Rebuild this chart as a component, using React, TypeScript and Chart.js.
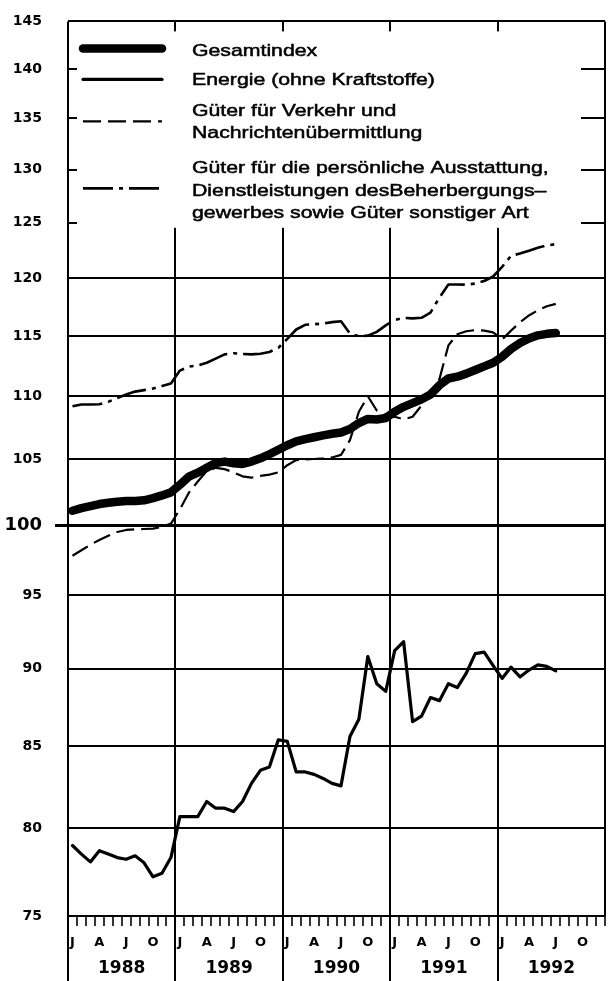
import React, { useEffect, useRef } from 'react';
import { Chart, registerables } from 'chart.js';

Chart.register(...registerables);

// ---- data (monthly, Jan 1988 .. Jul 1992) ----
const yearLabels = ['1988', '1989', '1990', '1991', '1992'];
const monthLetters = ['J', 'A', 'J', 'O'];
const monthLetterIndex = [0, 3, 6, 9];
const yTickValues = [75, 80, 85, 90, 95, 100, 105, 110, 115, 120, 125, 130, 135, 140, 145];

const gesamtindex = [
  101.1, 101.3, 101.45, 101.6, 101.7, 101.78, 101.83, 101.83, 101.88, 102.05, 102.25, 102.48,
  103.05, 103.68, 103.98, 104.35, 104.72, 104.83, 104.7, 104.65, 104.83, 105.08, 105.4, 105.75,
  106.1, 106.4, 106.58, 106.73, 106.88, 107.0, 107.1, 107.38, 107.85, 108.18, 108.13, 108.25,
  108.75, 109.15, 109.45, 109.75, 110.15, 110.9, 111.45, 111.6, 111.85, 112.15, 112.45, 112.75,
  113.25, 113.9, 114.4, 114.78, 115.05, 115.18, 115.25,
];

const energie = [
  79.0, 78.5, 78.05, 78.7, 78.5, 78.3, 78.2, 78.4, 78.0, 77.2, 77.4, 78.3,
  80.7, 80.7, 80.7, 81.6, 81.2, 81.2, 81.0, 81.6, 82.7, 83.5, 83.7, 85.4,
  85.3, 83.4, 83.4, 83.25, 83.0, 82.7, 82.55, 85.6, 86.7, 90.8, 89.0, 88.5,
  91.2, 91.8, 86.55, 86.9, 88.1, 87.9, 89.0, 88.75, 89.7, 91.0, 91.1, 90.2,
  89.35, 90.1, 89.45, 89.9, 90.25, 90.15, 89.85,
];

const verkehr = [
  97.8, 98.2, 98.6, 98.95, 99.25, 99.53, 99.68, 99.73, 99.75, 99.78, 99.9, 100.15,
  101.2, 102.45, 103.3, 104.1, 104.35, 104.25, 104.0, 103.7, 103.6, 103.73, 103.83, 104.0,
  104.55, 104.95, 105.0, 105.03, 105.08, 105.15, 105.35, 106.5, 108.75, 110.0, 108.85, 108.45,
  108.35, 108.15, 108.35, 109.25, 110.2, 111.4, 114.2, 115.15, 115.4, 115.5, 115.45, 115.3,
  114.7, 115.45, 116.15, 116.75, 117.2, 117.55, 117.75,
];

const ausstattung = [
  109.2, 109.33, 109.33, 109.35, 109.55, 109.85, 110.15, 110.38, 110.5, 110.63, 110.83, 111.05,
  112.1, 112.43, 112.53, 112.75, 113.1, 113.45, 113.55, 113.48, 113.45, 113.5, 113.65, 114.0,
  114.75, 115.55, 115.95, 116.0, 116.05, 116.18, 116.25, 115.2, 114.98, 115.03, 115.35, 115.9,
  116.35, 116.55, 116.5, 116.55, 117.0, 118.3, 119.45, 119.45, 119.43, 119.53, 119.75, 120.15,
  121.0, 122.0, 122.2, 122.45, 122.73, 122.93, 123.05,
];

const seriesLabels = [
  'Gesamtindex',
  'Energie (ohne Kraftstoffe)',
  'Güter für Verkehr und\nNachrichtenübermittlung',
  'Güter für die persönliche Ausstattung,\nDienstleistungen desBeherbergungs–\ngewerbes sowie Güter sonstiger Art',
];

// month k (0 = Jan 1988) is placed at the middle of its month on a 0..60 axis
const toPoints = (values: number[]) => values.map((v, k) => ({ x: k + 0.5, y: v }));

const FONT = "'DejaVu Sans', 'Liberation Sans', Arial, sans-serif";
const LFONT = "'Liberation Sans', Arial, 'DejaVu Sans', sans-serif";

// legend layout (offsets from chart area top)
const legendRows = [
  { sampleY: 27, baselines: [35] },
  { sampleY: 58, baselines: [64] },
  { sampleY: 100, baselines: [95, 117] },
  { sampleY: 167, baselines: [152, 175, 197] },
];

const boxLegendPlugin = {
  id: 'boxLegend',
  beforeDatasetsDraw(chart: any) {
    const { ctx, chartArea: ca, scales } = chart;
    const yBottom = scales.y.getPixelForValue(125) + 5;
    ctx.save();
    ctx.fillStyle = '#ffffff';
    ctx.fillRect(ca.left + 9, ca.top + 10, ca.right - 24 - (ca.left + 9), yBottom - (ca.top + 10));

    const x0 = ca.left + 15;
    const x1 = ca.left + 94;
    const textX = ca.left + 124;
    chart.data.datasets.forEach((ds: any, i: number) => {
      const row = legendRows[i];
      ctx.save();
      ctx.strokeStyle = '#000';
      ctx.lineWidth = ds.borderWidth;
      ctx.lineCap = ds.borderCapStyle || 'butt';
      ctx.setLineDash(ds.borderDash || []);
      ctx.beginPath();
      ctx.moveTo(x0, ca.top + row.sampleY);
      ctx.lineTo(x1, ca.top + row.sampleY);
      ctx.stroke();
      ctx.restore();

      const lines = String(ds.label).split('\n');
      lines.forEach((line: string, j: number) => {
        ctx.save();
        ctx.fillStyle = '#000';
        ctx.strokeStyle = '#000';
        ctx.lineWidth = 0.5;
        ctx.font = `17px ${LFONT}`;
        ctx.textBaseline = 'alphabetic';
        ctx.textAlign = 'left';
        ctx.translate(textX, ca.top + row.baselines[j]);
        ctx.scale(1.25, 1);
        ctx.fillText(line, 0, 0);
        ctx.strokeText(line, 0, 0);
        ctx.restore();
      });
    });
    ctx.restore();
  },
};

const yearSeparatorPlugin = {
  id: 'yearSeparators',
  afterDraw(chart: any) {
    const { ctx, chartArea, scales } = chart;
    const xs = scales.x;
    ctx.save();
    ctx.strokeStyle = '#000';
    ctx.lineWidth = 2;
    yearLabels.forEach((_, i) => {
      const px = Math.round(xs.getPixelForValue(i * 12));
      ctx.beginPath();
      ctx.moveTo(px, chartArea.bottom);
      ctx.lineTo(px, chart.height);
      ctx.stroke();
    });
    ctx.restore();
  },
};

export default function App() {
  const canvasRef = useRef<HTMLCanvasElement | null>(null);

  useEffect(() => {
    if (!canvasRef.current) return;
    const chart = new Chart(canvasRef.current, {
      type: 'line',
      data: {
        datasets: [
          {
            label: seriesLabels[0],
            data: toPoints(gesamtindex),
            borderColor: '#000',
            borderWidth: 8.5,
            borderCapStyle: 'round',
            borderJoinStyle: 'round',
            pointRadius: 0,
            tension: 0,
          },
          {
            label: seriesLabels[1],
            data: toPoints(energie),
            borderColor: '#000',
            borderWidth: 3.2,
            borderCapStyle: 'round',
            borderJoinStyle: 'round',
            pointRadius: 0,
            tension: 0,
          },
          {
            label: seriesLabels[2],
            data: toPoints(verkehr),
            borderColor: '#000',
            borderWidth: 2.2,
            borderDash: [18, 7],
            borderCapStyle: 'butt',
            borderJoinStyle: 'round',
            pointRadius: 0,
            tension: 0,
          },
          {
            label: seriesLabels[3],
            data: toPoints(ausstattung),
            borderColor: '#000',
            borderWidth: 2.6,
            borderDash: [30, 6, 4, 6],
            borderCapStyle: 'butt',
            borderJoinStyle: 'round',
            pointRadius: 0,
            tension: 0,
          },
        ],
      },
      options: {
        responsive: false,
        animation: false,
        devicePixelRatio: 1,
        layout: { padding: { top: 13, right: 6, left: 0, bottom: 0 } },
        plugins: { legend: { display: false }, tooltip: { enabled: false } },
        scales: {
          x: {
            type: 'linear',
            position: 'bottom',
            weight: 0,
            min: 0,
            max: 60,
            afterBuildTicks: (s: any) => {
              s.ticks = Array.from({ length: 121 }, (_, i) => ({ value: i / 2 }));
            },
            afterFit: (s: any) => {
              s.height = 37;
            },
            ticks: {
              autoSkip: false,
              maxRotation: 0,
              minRotation: 0,
              padding: 9,
              color: '#000',
              font: { family: FONT, size: 13, weight: 'bold' },
              callback: (v: any) => {
                const k = Number(v) - 0.5;
                if (!Number.isInteger(k)) return '';
                const idx = monthLetterIndex.indexOf(k % 12);
                return idx >= 0 ? monthLetters[idx] : '';
              },
            },
            grid: {
              drawOnChartArea: true,
              color: (c: any) =>
                c.tick && Number.isInteger(c.tick.value) && c.tick.value % 12 === 0 ? '#000' : 'rgba(0,0,0,0)',
              tickColor: (c: any) => (c.tick && Number.isInteger(c.tick.value) ? '#000' : 'rgba(0,0,0,0)'),
              lineWidth: 2,
              tickWidth: 1.6,
              tickLength: 10,
            },
            border: { display: false },
          },
          x2: {
            type: 'linear',
            position: 'bottom',
            weight: 1,
            min: 0,
            max: 60,
            afterBuildTicks: (s: any) => {
              s.ticks = yearLabels.map((_, i) => ({ value: i * 12 + 6 }));
            },
            afterFit: (s: any) => {
              s.height = 28;
            },
            ticks: {
              autoSkip: false,
              maxRotation: 0,
              minRotation: 0,
              padding: 5,
              color: '#000',
              font: { family: FONT, size: 17, weight: 'bold' },
              callback: (v: any) => yearLabels[Math.round((Number(v) - 6) / 12)] ?? '',
            },
            grid: { display: false, drawTicks: false },
            border: { display: false },
          },
          y: {
            type: 'logarithmic',
            min: 75,
            max: 145,
            afterBuildTicks: (s: any) => {
              s.ticks = yTickValues.map((v) => ({ value: v }));
            },
            afterFit: (s: any) => {
              s.width = 68;
            },
            ticks: {
              autoSkip: false,
              padding: 13,
              color: '#000',
              font: (c: any) =>
                c.tick && c.tick.value === 100
                  ? { family: FONT, size: 18, weight: 'bold' }
                  : { family: FONT, size: 14, weight: 'bold' },
              callback: (v: any) => String(v),
            },
            grid: {
              color: '#000',
              lineWidth: (c: any) => (c.tick && c.tick.value === 100 ? 3 : 2),
              tickColor: (c: any) => (c.tick && c.tick.value === 100 ? '#000' : 'rgba(0,0,0,0)'),
              tickWidth: 3,
              tickLength: 13,
            },
            border: { display: false },
          },
        },
      },
      plugins: [boxLegendPlugin, yearSeparatorPlugin],
    } as any);
    return () => chart.destroy();
  }, []);

  return (
    <div style={{ position: 'absolute', left: 0, top: 0, width: 614, height: 981, background: '#fff' }}>
      <canvas ref={canvasRef} width={614} height={981} style={{ display: 'block' }} />
    </div>
  );
}
